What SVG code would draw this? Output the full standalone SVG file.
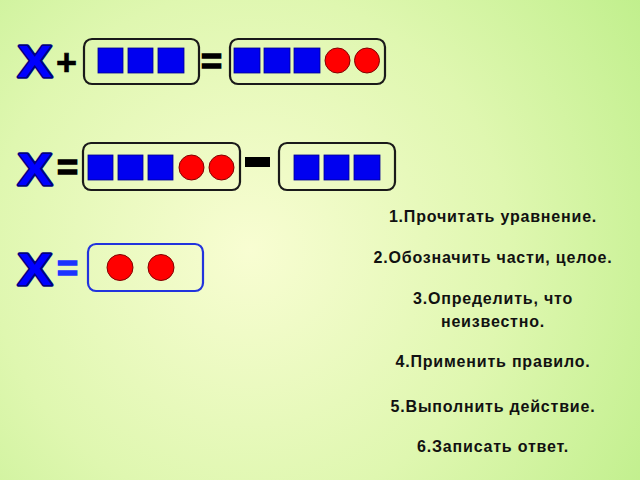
<svg xmlns="http://www.w3.org/2000/svg" width="640" height="480" viewBox="0 0 640 480">
<defs>
<radialGradient id="bg" cx="250" cy="250" r="470" gradientUnits="userSpaceOnUse">
<stop offset="0" stop-color="#f8fdd2"/>
<stop offset="0.55" stop-color="#dff7b0"/>
<stop offset="1" stop-color="#c0ef8c"/>
</radialGradient>
<style>
.box{fill:none;stroke:#1a1a1a;stroke-width:2.2}
.bbox{fill:none;stroke:#2233dd;stroke-width:2.2}
.sq{fill:#0000f0;stroke:#000090;stroke-width:0.8}
.ci{fill:#ff0000;stroke:#800000;stroke-width:1}
.x{font-family:"Liberation Sans",Arial,sans-serif;font-weight:bold;font-size:45px;fill:#0000ff;stroke:#000080;stroke-width:3.5;stroke-linejoin:round;paint-order:stroke}
.op{font-family:"Liberation Sans",Arial,sans-serif;font-weight:bold;font-size:36px;fill:#000;stroke:#000;stroke-width:1.6}
.plus{stroke-width:0.6}
.opb{fill:#1a33ff;stroke:#1a33ff}
.t{font-family:"Liberation Sans",Arial,sans-serif;font-weight:bold;font-size:16px;letter-spacing:0.8px;fill:#111;text-anchor:middle}
</style>
</defs>
<rect width="640" height="480" fill="url(#bg)"/>

<g id="row1">
<text class="x" x="18" y="77" textLength="34" lengthAdjust="spacingAndGlyphs">X</text>
<text class="op plus" x="56" y="75" font-size="38">+</text>
<g id="box1">
<rect class="box" x="84" y="39" width="115" height="45" rx="8"/>
<rect class="sq" x="98" y="48" width="25" height="25"/>
<rect class="sq" x="128" y="48" width="25" height="25"/>
<rect class="sq" x="158" y="48" width="26" height="25"/>
</g>
<text class="op" x="201" y="74">=</text>
<g id="box2">
<rect class="box" x="230" y="39" width="155" height="45" rx="8"/>
<rect class="sq" x="234" y="48" width="26" height="25"/>
<rect class="sq" x="264" y="48" width="26" height="25"/>
<rect class="sq" x="294" y="48" width="26" height="25"/>
<circle class="ci" cx="337.5" cy="60.5" r="12.5"/>
<circle class="ci" cx="367" cy="60.5" r="12.5"/>
</g>
</g>

<g id="row2">
<text class="x" x="18" y="185" textLength="34" lengthAdjust="spacingAndGlyphs">X</text>
<text class="op" x="57" y="180">=</text>
<g id="box3">
<rect class="box" x="83" y="143" width="157" height="47" rx="8"/>
<rect class="sq" x="88" y="155" width="25" height="25"/>
<rect class="sq" x="118" y="155" width="25" height="25"/>
<rect class="sq" x="148" y="155" width="25" height="25"/>
<circle class="ci" cx="191.5" cy="167.5" r="12.5"/>
<circle class="ci" cx="221.5" cy="167.5" r="12.5"/>
</g>
<rect id="minus" x="245" y="157" width="25" height="10" fill="#000"/>
<g id="box4">
<rect class="box" x="279" y="143" width="116" height="47" rx="8"/>
<rect class="sq" x="294" y="155" width="25" height="25"/>
<rect class="sq" x="324" y="155" width="25" height="25"/>
<rect class="sq" x="354" y="155" width="26" height="25"/>
</g>
</g>

<g id="row3">
<text class="x" x="18" y="285" textLength="34" lengthAdjust="spacingAndGlyphs">X</text>
<text class="op opb" x="57" y="281">=</text>
<g id="box5">
<rect class="bbox" x="88" y="244" width="115" height="47" rx="8"/>
<circle class="ci" cx="120" cy="267.5" r="13"/>
<circle class="ci" cx="161" cy="267.5" r="13"/>
</g>
</g>

<g id="steps">
<text class="t" x="493" y="222">1.Прочитать уравнение.</text>
<text class="t" x="493" y="263">2.Обозначить части, целое.</text>
<text class="t" x="493" y="304">3.Определить, что</text>
<text class="t" x="493" y="327">неизвестно.</text>
<text class="t" x="493" y="367">4.Применить правило.</text>
<text class="t" x="493" y="412">5.Выполнить действие.</text>
<text class="t" x="493" y="452">6.Записать ответ.</text>
</g>
</svg>
